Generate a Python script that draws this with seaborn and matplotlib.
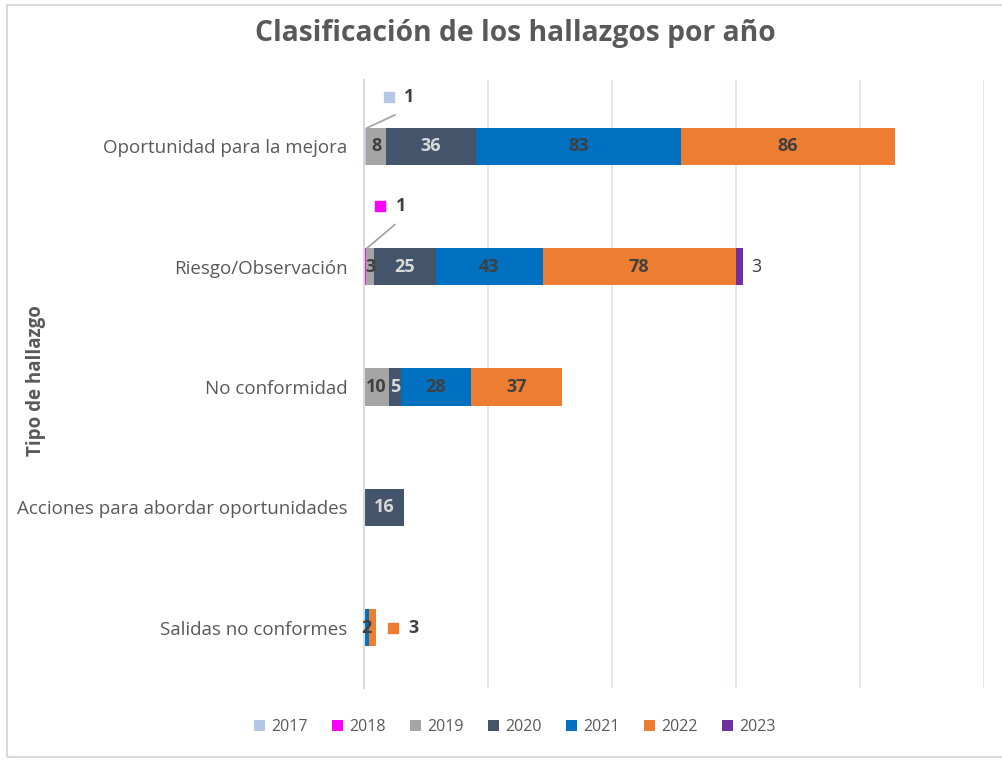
import matplotlib
matplotlib.use("Agg")
import matplotlib.pyplot as plt
import seaborn as sns
import pandas as pd
import numpy as np
from matplotlib.patches import Patch, Rectangle

categories = ["Oportunidad para la mejora", "Riesgo/Observación", "No conformidad",
              "Acciones para abordar oportunidades", "Salidas no conformes"]
years = ["2017", "2018", "2019", "2020", "2021", "2022", "2023"]
v2017 = [1, 0, 0, 0, 0]
v2018 = [0, 1, 0, 0, 0]
v2019 = [8, 3, 10, 0, 0]
v2020 = [36, 25, 5, 16, 0]
v2021 = [83, 43, 28, 0, 2]
v2022 = [86, 78, 37, 0, 3]
v2023 = [0, 3, 0, 0, 0]
colors = ["#B4C7E7", "#FF00FF", "#A5A5A5", "#44546A", "#0070C0", "#ED7D31", "#7030A0"]

series = [v2017, v2018, v2019, v2020, v2021, v2022, v2023]
vals = np.array(series, dtype=float)
cum = np.cumsum(vals, axis=0)

sns.set_theme(style="white")
plt.rcParams["font.family"] = ["Open Sans", "DejaVu Sans"]

fig = plt.figure(figsize=(10.03, 7.62), dpi=100)
ax = fig.add_axes([364/1003, 1-688/762, (984-364)/1003, (688-80)/762])

for i in range(len(years)-1, -1, -1):
    df = pd.DataFrame({"cat": categories, "x": cum[i]})
    sns.barplot(data=df, y="cat", x="x", orient="h", color=colors[i], width=0.31,
                saturation=1, ax=ax, order=categories, linewidth=0)

ax.set_xlim(0, 250)
ax.set_ylim(4.5, -0.55)
ax.set_xticks([0, 50, 100, 150, 200, 250])
ax.set_xticklabels([])
ax.tick_params(axis="x", length=0)
ax.tick_params(axis="y", length=0, labelsize=13.5, labelcolor="#595959", pad=12)
ax.grid(axis="x", color="#DAE3F3", linewidth=1.2)
ax.set_axisbelow(True)
for s in ["top", "right", "bottom"]:
    ax.spines[s].set_visible(False)
ax.spines["left"].set_color("#D9D9D9")
ax.spines["left"].set_linewidth(1.5)
ax.set_xlabel("")
ax.set_ylabel("Tipo de hallazgo", fontsize=13.5, fontweight="bold", color="#595959")
ax.yaxis.set_label_coords(-318/620, 0.505)

dark = "#404040"
light = "#D9D9D9"
for i, yr in enumerate(years):
    for j, cat in enumerate(categories):
        v = vals[i, j]
        if v <= 0:
            continue
        if (i, j) in [(0, 0), (1, 1), (6, 1), (5, 4)]:
            continue
        xc = cum[i, j] - v / 2
        col = light if i == 3 else dark
        ax.text(xc, j, f"{int(v)}", ha="center", va="center", fontsize=13,
                fontweight="bold", color=col)

def callout(j, i, dx_marker, dy, dx_text, line=True):
    v = vals[i, j]
    xs = cum[i, j] - v / 2
    xm = xs + dx_marker
    ym = j + dy
    ax.scatter([xm], [ym], marker="s", s=50, color=colors[i], zorder=5)
    ax.text(xm + dx_text, ym, f"{int(v)}", ha="left", va="center", fontsize=13,
            fontweight="bold", color=dark)
    if line:
        ax.plot([xs + 0.5, xs + 12], [j - 0.15, j + dy + 0.15], color="#A6A6A6", lw=1.3)

callout(0, 0, 9.5, -0.41, 6)
callout(1, 1, 6, -0.5, 6.5)
callout(4, 5, 8, 0.0, 6.5, line=False)
ax.text(cum[6, 1] + 3, 1, f"{int(vals[6, 1])}", ha="left", va="center", fontsize=13,
        color=dark)

fig.suptitle("Clasificación de los hallazgos por año", x=515/1003, y=1-34/762, va="center",
             fontsize=20.3, fontweight="bold", color="#595959")

handles = [Patch(facecolor=c, edgecolor="none", label=y) for c, y in zip(colors, years)]
fig.legend(handles=handles, loc="center", bbox_to_anchor=(515/1003, 1-727/762), ncol=7,
           frameon=False, fontsize=11.5, handlelength=0.7, handleheight=0.7,
           handletextpad=0.4, columnspacing=1.5, labelcolor="#595959")

fig.patches.append(Rectangle((7/1003, 1-757/762), 1.0, 752/762, transform=fig.transFigure,
                             fill=False, edgecolor="#D9D9D9", linewidth=1.5))

fig.savefig("out.png", dpi=100)
